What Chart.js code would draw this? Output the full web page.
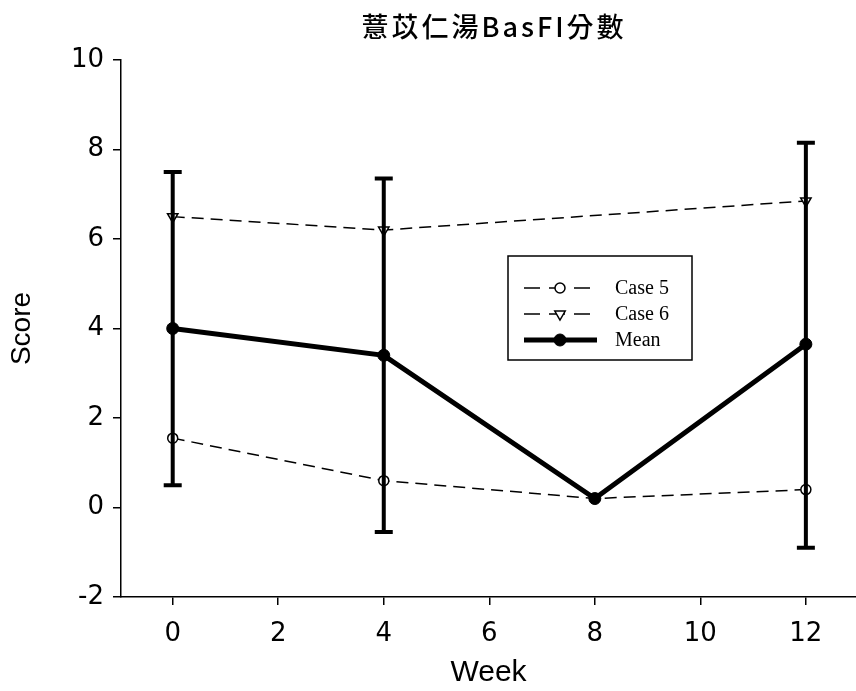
<!DOCTYPE html>
<html>
<head>
<meta charset="utf-8">
<script src="https://cdn.jsdelivr.net/npm/chart.js@4"></script>
<style>
  html, body { margin: 0; padding: 0; background: #fff; overflow: hidden; }
  canvas { display: block; }
</style>
</head>
<body>
<canvas id="chart" width="856" height="691"></canvas>
<script>
// chart data
const titleText = '薏苡仁湯BasFI分數';
const weeks = [0, 4, 8, 12];
const weekTicks = [0, 2, 4, 6, 8, 10, 12];
const case5 = [1.55, 0.6, 0.2, 0.4];
const case6 = [6.5, 6.2, null, 6.85];
const mean = [4.0, 3.4, 0.2, 3.65];
const meanLow = [0.5, -0.55, null, -0.9];
const meanHigh = [7.5, 7.35, null, 8.15];
const seriesLabels = ['Case 5', 'Case 6', 'Mean'];

const sans = "'Liberation Sans', Arial, sans-serif";
const wide = "'DejaVu Sans', sans-serif";
const serif = "'Liberation Serif', 'Times New Roman', serif";

const toPoints = (vals) => weeks.map((w, i) => ({ x: w, y: vals[i] }));

// error bars on the mean
const errorBars = {
  id: 'errorBars',
  afterDatasetsDraw(chart) {
    const { ctx, scales: { x, y } } = chart;
    ctx.save();
    ctx.strokeStyle = '#000';
    ctx.lineWidth = 4;
    ctx.lineCap = 'butt';
    weeks.forEach((w, i) => {
      if (meanLow[i] == null) return;
      const px = x.getPixelForValue(w);
      const top = y.getPixelForValue(meanHigh[i]);
      const bot = y.getPixelForValue(meanLow[i]);
      ctx.beginPath();
      ctx.moveTo(px, top);
      ctx.lineTo(px, bot);
      ctx.moveTo(px - 9, top);
      ctx.lineTo(px + 9, top);
      ctx.moveTo(px - 9, bot);
      ctx.lineTo(px + 9, bot);
      ctx.stroke();
    });
    ctx.restore();
  }
};

// title and boxed legend like the scanned figure
const decorations = {
  id: 'decorations',
  afterDraw(chart) {
    const ctx = chart.ctx;
    ctx.save();
    ctx.fillStyle = '#000';
    ctx.font = "500 27px 'Noto Sans CJK TC', sans-serif";
    ctx.letterSpacing = '3px';
    ctx.textAlign = 'center';
    ctx.textBaseline = 'middle';
    ctx.fillText(titleText, 494, 27);
    ctx.letterSpacing = '0px';

    // legend box
    ctx.strokeStyle = '#000';
    ctx.lineWidth = 1.5;
    ctx.strokeRect(508, 256, 184, 104);

    ctx.font = '20px ' + serif;
    ctx.textAlign = 'left';
    chart.data.datasets.forEach((ds, i) => {
      const ly = 288 + i * 26;
      ctx.save();
      ctx.strokeStyle = '#000';
      ctx.lineWidth = ds.borderWidth;
      ctx.setLineDash(ds.borderDash ? [16, 9] : []);
      ctx.beginPath();
      ctx.moveTo(524, ly);
      ctx.lineTo(597, ly);
      ctx.stroke();
      ctx.setLineDash([]);
      ctx.fillStyle = ds.pointBackgroundColor;
      ctx.strokeStyle = '#000';
      ctx.lineWidth = ds.pointBorderWidth;
      Chart.helpers.drawPoint(ctx, {
        pointStyle: ds.pointStyle,
        radius: ds.pointRadius,
        rotation: ds.pointRotation || 0,
        borderWidth: ds.pointBorderWidth
      }, 560, ly);
      ctx.restore();
      ctx.fillText(ds.label, 615, ly + 1);
    });
    ctx.restore();
  }
};

new Chart(document.getElementById('chart'), {
  type: 'line',
  data: {
    datasets: [
      {
        label: seriesLabels[0],
        data: toPoints(case5),
        order: 1,
        borderColor: '#000',
        borderWidth: 1.5,
        borderDash: [12, 7],
        pointStyle: 'circle',
        pointRadius: 5,
        pointBorderWidth: 1.5,
        pointBackgroundColor: '#fff',
        pointBorderColor: '#000'
      },
      {
        label: seriesLabels[1],
        data: toPoints(case6),
        order: 1,
        spanGaps: true,
        borderColor: '#000',
        borderWidth: 1.5,
        borderDash: [12, 7],
        pointStyle: 'triangle',
        pointRotation: 180,
        pointRadius: 6,
        pointBorderWidth: 1.5,
        pointBackgroundColor: '#fff',
        pointBorderColor: '#000'
      },
      {
        label: seriesLabels[2],
        data: toPoints(mean),
        order: 0,
        borderColor: '#000',
        borderWidth: 5,
        pointStyle: 'circle',
        pointRadius: 6,
        pointBorderWidth: 1,
        pointBackgroundColor: '#000',
        pointBorderColor: '#000'
      }
    ]
  },
  options: {
    responsive: false,
    animation: false,
    layout: { autoPadding: false, padding: { top: 60, right: 0, left: 0, bottom: 0 } },
    plugins: {
      legend: { display: false },
      title: { display: false },
      tooltip: { enabled: false }
    },
    scales: {
      x: {
        type: 'linear',
        min: -0.98,
        max: 12.95,
        afterBuildTicks: (s) => { s.ticks = weekTicks.map(v => ({ value: v })); },
        afterFit: (s) => { s.height = 94; s.paddingRight = 0; s.paddingLeft = 0; },
        grid: { drawOnChartArea: false, tickLength: 8, color: '#000', lineWidth: 1.5 },
        border: { color: '#000', width: 1.5 },
        ticks: { color: '#000', font: { family: wide, size: 26 }, padding: 14, maxRotation: 0, autoSkip: false },
        title: { display: true, text: 'Week', color: '#000', font: { family: sans, size: 30 }, padding: { top: 0, bottom: 0 } }
      },
      y: {
        min: -2,
        max: 10,
        afterFit: (s) => { s.width = 121; },
        grid: { drawOnChartArea: false, tickLength: 8, color: '#000', lineWidth: 1.5 },
        border: { color: '#000', width: 1.5 },
        ticks: { stepSize: 2, color: '#000', font: { family: wide, size: 26 }, padding: 9 },
        title: { display: true, text: 'Score', color: '#000', font: { family: sans, size: 28 }, padding: { top: 5, bottom: 0 } }
      }
    }
  },
  plugins: [errorBars, decorations]
});
</script>
</body>
</html>
